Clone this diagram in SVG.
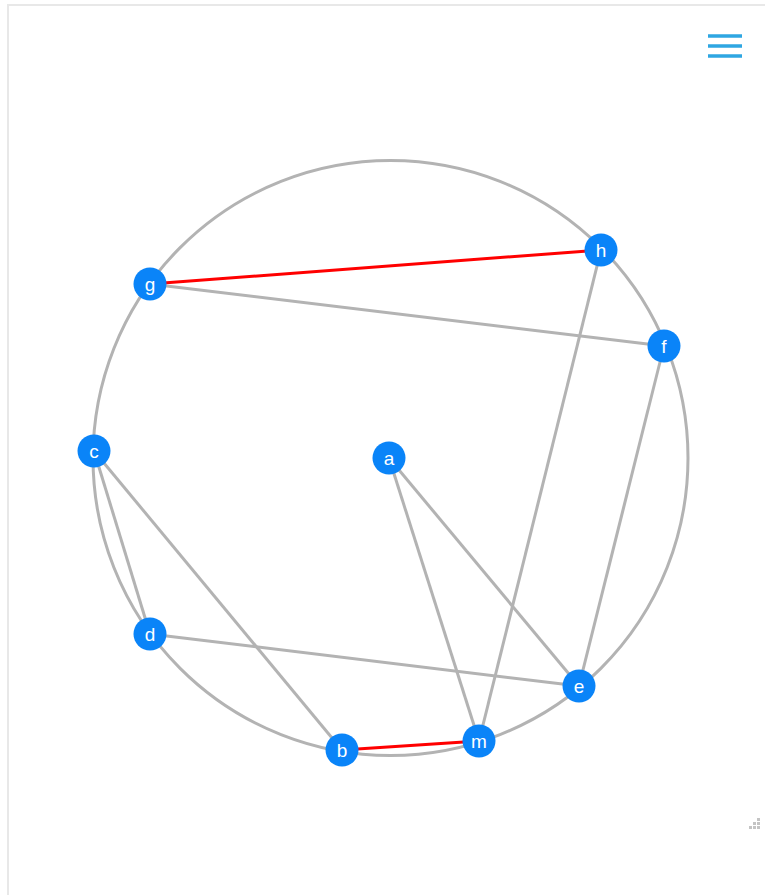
<svg xmlns="http://www.w3.org/2000/svg" width="765" height="895" viewBox="0 0 765 895">
<style>
.edge{stroke:#b3b3b3;stroke-width:3;fill:none}
.red{stroke:#ff0000;stroke-width:3}
.node circle{fill:#0a84f8}
.node text{fill:#ffffff;font-family:"Liberation Sans",Arial,sans-serif;font-size:19px;text-anchor:middle;dominant-baseline:central}
.menu{stroke:#2ea6e2;stroke-width:3.5}
.grip{fill:#c4c4c4}
</style>
<rect x="0" y="0" width="765" height="895" fill="#ffffff"/>
<path d="M8 895 V5 H765" fill="none" stroke="#e8e8e8" stroke-width="2"/>
<g id="menu">
<line class="menu" x1="708" y1="36" x2="742" y2="36"/>
<line class="menu" x1="708" y1="46" x2="742" y2="46"/>
<line class="menu" x1="708" y1="56" x2="742" y2="56"/>
</g>
<g id="grip">
<rect class="grip" x="757" y="818" width="3" height="3"/>
<rect class="grip" x="753" y="822" width="3" height="3"/>
<rect class="grip" x="757" y="822" width="3" height="3"/>
<rect class="grip" x="749" y="826" width="3" height="3"/>
<rect class="grip" x="753" y="826" width="3" height="3"/>
<rect class="grip" x="757" y="826" width="3" height="3"/>
</g>
<g id="connectors">
<circle class="edge" cx="390.5" cy="458" r="297.5"/>
<line class="edge" x1="150" y1="284" x2="664" y2="346"/>
<line class="edge" x1="601" y1="250" x2="479" y2="741"/>
<line class="edge" x1="664" y1="346" x2="579" y2="686"/>
<line class="edge" x1="94" y1="451" x2="150" y2="634"/>
<line class="edge" x1="94" y1="451" x2="342" y2="750"/>
<line class="edge" x1="150" y1="634" x2="579" y2="686"/>
<line class="edge" x1="389" y1="458" x2="479" y2="741"/>
<line class="edge" x1="389" y1="458" x2="579" y2="686"/>
<line class="red" x1="150" y1="284" x2="601" y2="250"/>
<line class="red" x1="342" y1="750" x2="479" y2="741"/>
</g>
<g id="node-a" class="node"><circle cx="389" cy="458" r="16.5"/><text x="389" y="458">a</text></g>
<g id="node-h" class="node"><circle cx="601" cy="250" r="16.5"/><text x="601" y="250">h</text></g>
<g id="node-g" class="node"><circle cx="150" cy="284" r="16.5"/><text x="150" y="284">g</text></g>
<g id="node-f" class="node"><circle cx="664" cy="346" r="16.5"/><text x="664" y="346">f</text></g>
<g id="node-c" class="node"><circle cx="94" cy="451" r="16.5"/><text x="94" y="451">c</text></g>
<g id="node-d" class="node"><circle cx="150" cy="634" r="16.5"/><text x="150" y="634">d</text></g>
<g id="node-e" class="node"><circle cx="579" cy="686" r="16.5"/><text x="579" y="686">e</text></g>
<g id="node-b" class="node"><circle cx="342" cy="750" r="16.5"/><text x="342" y="750">b</text></g>
<g id="node-m" class="node"><circle cx="479" cy="741" r="16.5"/><text x="479" y="741">m</text></g>
</svg>
